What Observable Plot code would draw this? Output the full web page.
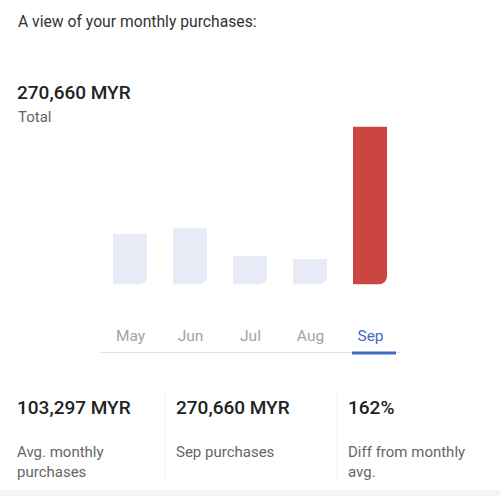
<!DOCTYPE html>
<html>
<head>
<meta charset="utf-8">
<script src="https://cdn.jsdelivr.net/npm/d3@7"></script>
<script src="https://cdn.jsdelivr.net/npm/@observablehq/plot@0.6"></script>
<style>
  html, body { margin: 0; padding: 0; background: #fff; }
  body { width: 500px; height: 496px; position: relative; overflow: hidden; font-family: Roboto, "Noto Sans", sans-serif; }
  .abs { position: absolute; white-space: nowrap; }
  #title { left: 18px; top: 12px; font-size: 15.7px; color: #333; }
  #total { left: 17px; top: 81px; font-size: 19px; font-weight: 500; color: #222; }
  #totalLabel { left: 18px; top: 108px; font-size: 15px; color: #666; }
  #chart { position: absolute; left: 0; top: 0; }
  .stat { position: absolute; top: 396px; }
  .stat .val { font-size: 19px; font-weight: 500; color: #222; line-height: 24px; }
  .stat .lab { font-size: 15px; color: #666; line-height: 20px; margin-top: 22px; white-space: normal; }
  .sep { position: absolute; top: 390px; width: 1px; height: 90px; background: #f2f2f2; }
  #band { position: absolute; left: 0; top: 490px; width: 500px; height: 6px; background: #f5f5f5; }
</style>
</head>
<body>
<div id="title" class="abs">A view of your monthly purchases:</div>
<div id="total" class="abs"></div>
<div id="totalLabel" class="abs">Total</div>
<div id="chart"></div>
<div class="sep" style="left:164px"></div>
<div class="sep" style="left:337px"></div>
<div id="stats"></div>
<div id="band"></div>
<script>
const months = ["May", "Jun", "Jul", "Aug", "Sep"];
const purchases = [86400, 96200, 49100, 43400, 270660];
const selectedMonth = "Sep";
const totalText = "270,660 MYR";
const statValues = ["103,297 MYR", "270,660 MYR", "162%"];
const statLabels = ["Avg. monthly purchases", "Sep purchases", "Diff from monthly avg."];

const data = months.map((m, i) => ({month: m, value: purchases[i]}));

document.getElementById("total").textContent = totalText;

const statX = [17, 176, 348];
const statW = [140, 150, 140];
const stats = document.getElementById("stats");
statValues.forEach((v, i) => {
  const d = document.createElement("div");
  d.className = "stat";
  d.style.left = statX[i] + "px";
  d.style.width = statW[i] + "px";
  d.innerHTML = `<div class="val"></div><div class="lab"></div>`;
  d.querySelector(".val").textContent = v;
  d.querySelector(".lab").textContent = statLabels[i];
  stats.appendChild(d);
});

const chart = Plot.plot({
  width: 500,
  height: 360,
  marginLeft: 100,
  marginRight: 100,
  marginTop: 0,
  marginBottom: 8,
  style: {fontFamily: "Roboto, sans-serif", background: "transparent"},
  x: {domain: months, paddingInner: 0.4333, paddingOuter: 0.2167, round: false, axis: null},
  y: {domain: [0, 270660], range: [284.3, 126.7], axis: null},
  marks: [
    Plot.barY(data, {
      x: "month",
      y: "value",
      fill: d => d.month === selectedMonth ? "#cb4543" : "#e8eaf5",
      rx2y2: 8
    }),
    Plot.frame({anchor: "bottom", stroke: "#e2e2e2"}),
    Plot.text(months, {
      x: d => d,
      frameAnchor: "bottom",
      dy: -16,
      lineAnchor: "middle",
      fontSize: 15.5,
      fill: d => d === selectedMonth ? "#3d6cc2" : "#a3a3a3"
    }),
    Plot.tickY([selectedMonth], {
      x: d => d,
      y: 0,
      dy: 68.2,
      stroke: "#3d6cc2",
      strokeWidth: 3,
      insetLeft: -1,
      insetRight: -9
    })
  ]
});
document.getElementById("chart").appendChild(chart);
</script>
</body>
</html>
